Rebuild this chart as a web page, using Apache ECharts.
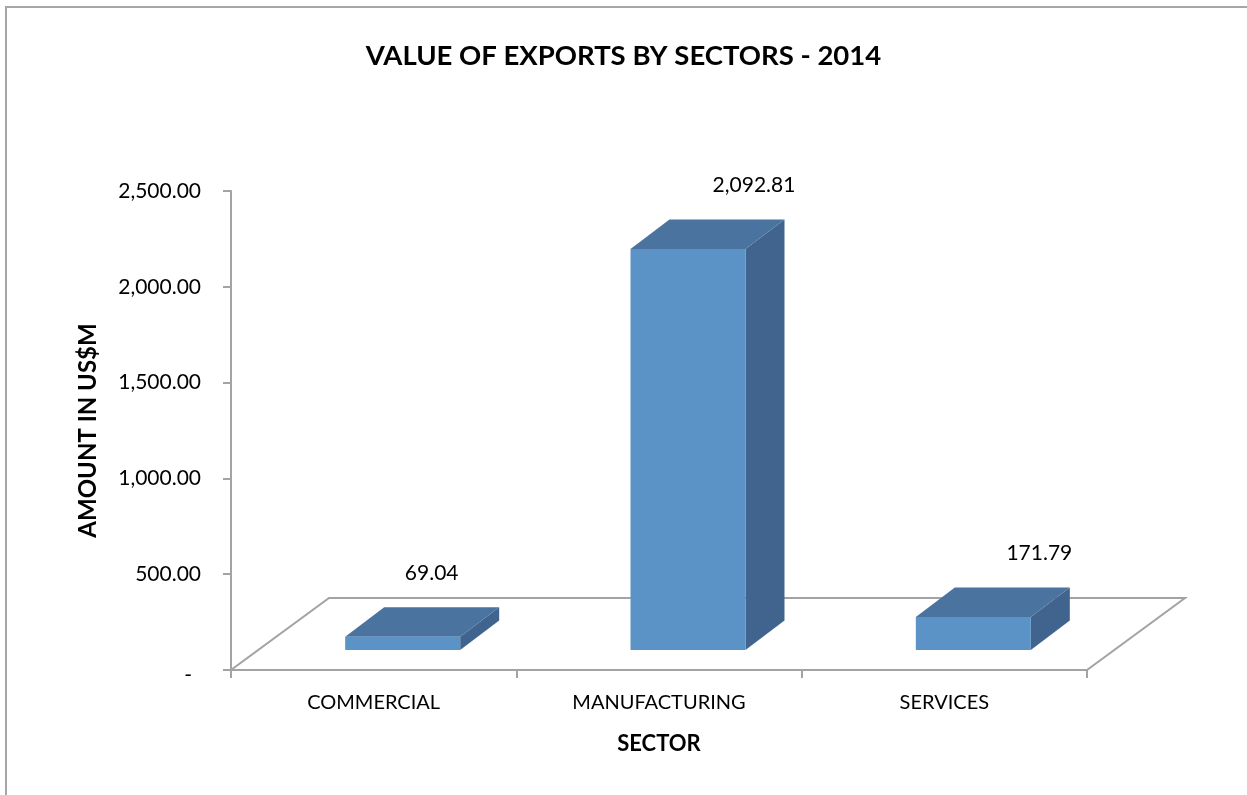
<!DOCTYPE html>
<html>
<head>
<meta charset="utf-8">
<style>
  html, body { margin: 0; padding: 0; background: #ffffff; }
  #chart { width: 1247px; height: 795px; }
</style>
<script src="https://cdn.jsdelivr.net/npm/echarts@6/dist/echarts.min.js"></script>
</head>
<body>
<div id="chart"></div>
<script>
// Export values by sector, 2014 (US$ millions)
const categories = ['COMMERCIAL', 'MANUFACTURING', 'SERVICES'];
const exportValues = [69.04, 2092.81, 171.79];
const yAxisMin = 0;
const yAxisMax = 2500;
const yAxisStep = 500;

// 3D look: floor depth, bar placement within the depth, bar depth
const FONT = 'Lato, "Open Sans", sans-serif';
const FLOOR_DX = 98, FLOOR_DY = -72;
const FRONT_DX = 29, FRONT_DY = -20;
const BAR_DX = 39, BAR_DY = -29.5;
const BAR_WIDTH_RATIO = 0.403;
const labelShiftX = [29, 66, 66];
const COLOR_FRONT = '#5b93c7';
const COLOR_TOP = '#4a73a0';
const COLOR_SIDE = '#41648e';
const AXIS_GRAY = '#a3a3a3';

const fmt = v => v.toLocaleString('en-US', { minimumFractionDigits: 2, maximumFractionDigits: 2 });

const chart = echarts.init(document.getElementById('chart'), null, { renderer: 'canvas' });

function renderFloor(params, api) {
  const cs = params.coordSys;
  const x0 = cs.x, y0 = cs.y + cs.height, x1 = cs.x + cs.width;
  return {
    type: 'polygon',
    shape: {
      points: [
        [x0, y0], [x1, y0],
        [x1 + FLOOR_DX, y0 + FLOOR_DY],
        [x0 + FLOOR_DX, y0 + FLOOR_DY]
      ]
    },
    style: { fill: 'none', stroke: AXIS_GRAY, lineWidth: 2 },
    silent: true
  };
}

function renderBar(params, api) {
  const idx = api.value(0);
  const val = api.value(1);
  const base = api.coord([idx, 0]);
  const top = api.coord([idx, val]);
  const w = api.size([1, 0])[0] * BAR_WIDTH_RATIO;
  const fx = base[0] + FRONT_DX - w / 2;
  const yB = base[1] + FRONT_DY;
  const yT = top[1] + FRONT_DY;
  return {
    type: 'group',
    children: [
      {
        type: 'polygon',
        shape: { points: [[fx + w, yT], [fx + w, yB], [fx + w + BAR_DX, yB + BAR_DY], [fx + w + BAR_DX, yT + BAR_DY]] },
        style: { fill: COLOR_SIDE }
      },
      {
        type: 'polygon',
        shape: { points: [[fx, yT], [fx + w, yT], [fx + w + BAR_DX, yT + BAR_DY], [fx + BAR_DX, yT + BAR_DY]] },
        style: { fill: COLOR_TOP }
      },
      {
        type: 'rect',
        shape: { x: fx, y: yT, width: w, height: yB - yT },
        style: { fill: COLOR_FRONT }
      },
      {
        type: 'text',
        style: {
          x: fx + w / 2 + labelShiftX[idx],
          y: yT + BAR_DY - 34,
          text: fmt(val),
          fill: '#000',
          font: '21px ' + FONT,
          align: 'center',
          verticalAlign: 'middle'
        }
      }
    ]
  };
}

chart.setOption({
  backgroundColor: '#ffffff',
  animation: false,
  title: {
    text: 'VALUE OF EXPORTS BY SECTORS - 2014',
    left: 'center',
    top: 37,
    padding: [5, 5, 5, 21],
    textStyle: { fontFamily: FONT, fontWeight: 'bold', fontSize: 27.5, color: '#000' }
  },
  graphic: [
    {
      type: 'rect',
      shape: { x: 6, y: 7, width: 1400, height: 1000 },
      style: { fill: 'none', stroke: '#a6a6a6', lineWidth: 2 },
      silent: true
    }
  ],
  grid: { left: 231, top: 191, width: 856, height: 479, containLabel: false },
  xAxis: {
    type: 'category',
    data: categories,
    name: 'SECTOR',
    nameLocation: 'middle',
    nameGap: 63,
    nameTextStyle: { fontFamily: FONT, fontWeight: 'bold', fontSize: 22, color: '#000' },
    axisLine: { lineStyle: { color: AXIS_GRAY, width: 2 } },
    axisTick: { show: true, length: 8, lineStyle: { color: AXIS_GRAY, width: 2 } },
    axisLabel: { margin: 23, fontFamily: FONT, fontSize: 20, color: '#000' },
    splitLine: { show: false }
  },
  yAxis: {
    type: 'value',
    min: yAxisMin,
    max: yAxisMax,
    interval: yAxisStep,
    name: 'AMOUNT IN US$M',
    nameLocation: 'middle',
    nameGap: 131,
    nameRotate: 90,
    nameTextStyle: { fontFamily: FONT, fontWeight: 'bold', fontSize: 24, color: '#000' },
    axisLine: { show: true, lineStyle: { color: AXIS_GRAY, width: 2 } },
    axisTick: { show: true, length: 8, lineStyle: { color: AXIS_GRAY, width: 2 } },
    axisLabel: {
      margin: 30,
      fontFamily: FONT,
      fontSize: 21,
      color: '#000',
      formatter: v => (v === 0 ? '{d|-}' : fmt(v)),
      rich: { d: { fontFamily: FONT, fontSize: 21, color: '#000', padding: [10, 9, 0, 0] } }
    },
    splitLine: { show: false }
  },
  series: [
    {
      type: 'custom',
      name: 'floor',
      renderItem: renderFloor,
      data: [[0, 0]],
      z: 1,
      silent: true
    },
    {
      type: 'custom',
      name: 'Exports',
      renderItem: renderBar,
      data: exportValues.map((v, i) => [i, v]),
      encode: { x: 0, y: 1 },
      z: 2
    }
  ]
});
</script>
</body>
</html>
